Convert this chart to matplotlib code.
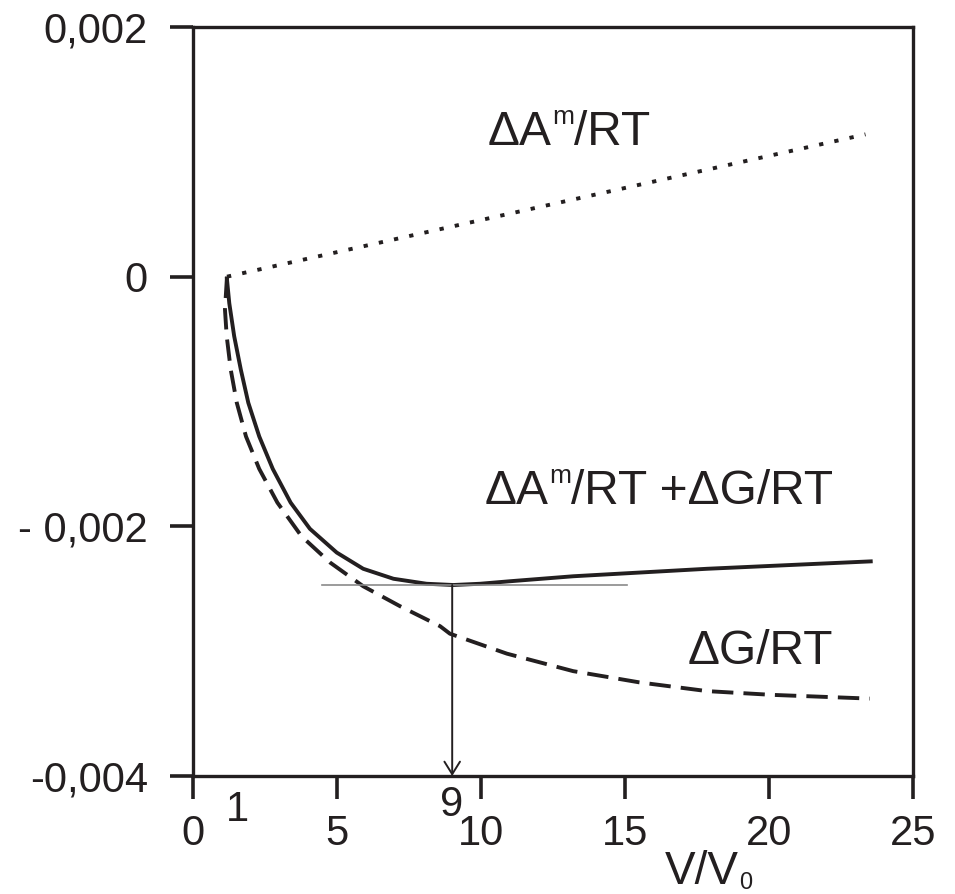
import matplotlib
matplotlib.use('Agg')
import matplotlib.pyplot as plt
from matplotlib.transforms import offset_copy

plt.rcParams['font.family'] = ['Liberation Sans', 'DejaVu Sans']

INK = '#231f20'

# Elastic (deformation) term, Delta A^m / RT
v_elastic = [1.18, 23.35]
a_elastic = [0.0, 0.00114]

# Mixing term, Delta G / RT
v_mixing = [1.18, 1.11, 1.17, 1.31, 1.52, 1.84, 2.30, 2.93, 3.77, 4.76,
            5.91, 7.19, 8.58, 8.92, 10.9, 13.2, 15.5, 17.85, 20.1, 23.5]
g_mixing = [0.0, -0.000264, -0.000477, -0.000744, -0.00101, -0.00128,
            -0.00154, -0.00181, -0.00208, -0.00229, -0.00248, -0.00264,
            -0.0028, -0.00286, -0.00302, -0.00316, -0.00325, -0.00332,
            -0.00335, -0.00338]

# Total, Delta A^m / RT + Delta G / RT
v_total = [1.17, 1.26, 1.43, 1.66, 1.92, 2.30, 2.77, 3.39, 4.06, 4.99,
           5.91, 6.96, 8.11, 9.04, 9.97, 11.0, 13.2, 17.85, 23.6]
g_total = [0.0, -0.000213, -0.000477, -0.000744, -0.00101, -0.00128,
           -0.00154, -0.00181, -0.00202, -0.00221, -0.00234, -0.00242,
           -0.00246, -0.00247, -0.00246, -0.00244, -0.00240, -0.00234,
           -0.00228]

# Equilibrium swelling ratio at the minimum of the total curve
v_eq = 9
g_eq = -0.00247
tangent_span = [4.48, 15.07]

x_ticks = [0, 5, 10, 15, 20, 25]
y_ticks = [-0.004, -0.002, 0, 0.002]
y_tick_labels = ['-0,004', '- 0,002', '0', '0,002']

fig = plt.figure(figsize=(9.55, 8.94), dpi=100)
ax = fig.add_axes([193 / 955, 1 - 776 / 894, 720 / 955, 749 / 894])

ax.plot(v_elastic, a_elastic, color=INK, lw=2.8,
        linestyle=(0, (1.1, 2.9)), dash_capstyle='butt')
ax.plot(v_mixing, g_mixing, color=INK, lw=2.8,
        linestyle=(0, (5.5, 2.6)), dash_capstyle='butt',
        solid_joinstyle='round')
ax.plot(v_total, g_total, color=INK, lw=2.8, solid_capstyle='butt',
        solid_joinstyle='round')

ax.plot(tangent_span, [g_eq, g_eq], color='#8a8a8a', lw=1.2)
ax.annotate('', xy=(v_eq, -0.004), xytext=(v_eq, g_eq),
            arrowprops=dict(arrowstyle='->, head_length=0.45, head_width=0.28',
                            mutation_scale=20, lw=1.4, color=INK,
                            shrinkA=0, shrinkB=0))

ax.set_xlim(0, 25)
ax.set_ylim(-0.004, 0.002)
ax.set_xticks(x_ticks)
ax.set_xticklabels([str(t) for t in x_ticks])
ax.set_yticks(y_ticks)
ax.set_yticklabels(y_tick_labels)

for s in ax.spines.values():
    s.set_linewidth(2.4)
    s.set_color(INK)
ax.tick_params(axis='both', direction='out', length=16.5, width=2.6,
               color=INK, labelcolor=INK, labelsize=30)
ax.tick_params(axis='x', pad=11)
ax.tick_params(axis='y', pad=16)

renderer = fig.canvas.get_renderer()


def rich_text(x, y, parts):
    """Draw consecutive text runs (text, size, rise in px) from a data point."""
    dx = 0.0
    for txt, size, rise in parts:
        tr = offset_copy(ax.transData, fig=fig, x=dx, y=rise, units='dots')
        t = ax.text(x, y, txt, fontsize=size, color=INK, ha='left',
                    va='baseline', transform=tr, clip_on=False)
        dx += t.get_window_extent(renderer).width


fs = 34.5
sup = 19
rich_text(10.24, 0.001056, [('ΔA', fs, 0), ('m', sup, 21), ('/RT', fs, 0)])
rich_text(10.14, -0.001824, [('ΔA', fs, 0), ('m', sup, 21),
                             ('/RT +ΔG/RT', fs, 0)])
rich_text(17.19, -0.003104, [('ΔG/RT', fs, 0)])

ax.text(1.53, -0.00436, '1', fontsize=30, color=INK, ha='center',
        va='baseline', clip_on=False)
ax.text(8.99, -0.00432, '9', fontsize=30, color=INK, ha='center',
        va='baseline', clip_on=False)
rich_text(16.39, -0.004864, [('V/V', 33, 0), ('0', 17, -5)])

fig.savefig('out.png', dpi=100)
